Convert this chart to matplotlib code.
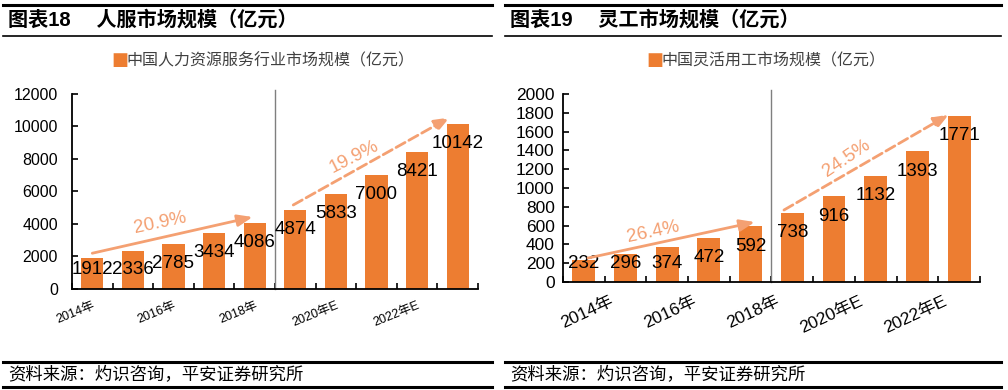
import numpy as np
import matplotlib
matplotlib.use("Agg")
import matplotlib.pyplot as plt
from matplotlib.lines import Line2D

plt.rcParams['font.family'] = ['Liberation Sans', 'Noto Sans CJK SC', 'DejaVu Sans']

# 数据
years = ['2014年', '2015年', '2016年', '2017年', '2018年',
         '2019年E', '2020年E', '2021年E', '2022年E', '2023年E']
hr_market = [1912, 2336, 2785, 3434, 4086, 4874, 5833, 7000, 8421, 10142]
flex_market = [232, 296, 374, 472, 592, 738, 916, 1132, 1393, 1771]

hr_title = '图表18　 人服市场规模（亿元）'
flex_title = '图表19　 灵工市场规模（亿元）'
hr_legend = '中国人力资源服务行业市场规模（亿元）'
flex_legend = '中国灵活用工市场规模（亿元）'
source = '资料来源：灼识咨询，平安证券研究所'

# CAGR 箭头: (起点x, 起点y, 终点x, 终点y, 文字, 文字x, 文字y, 角度, 线型)
hr_cagr = [(0.0, 2200, 3.95, 4430, '20.9%', 1.67, 4080, 12, '-'),
           (4.95, 5170, 8.8, 10550, '19.9%', 6.45, 8150, 27, '--')]
flex_cagr = [(0.1, 255, 4.1, 638, '26.4%', 1.66, 535, 12, '-'),
             (4.8, 766, 8.75, 1780, '24.5%', 6.3, 1320, 34, '--')]

bar_color = '#ED7D31'
arrow_color = '#F4A072'

fig = plt.figure(figsize=(10.08, 3.90), dpi=100)


def panel(rect, values, ymax, ystep, label_off, label_min, tick_fs, tick_pad,
          xt_fs, xt_dx, xt_dy, xt_rot, legend, legend_x, cagr):
    ax = fig.add_axes(rect)
    x = np.arange(len(values))
    ax.bar(x, values, width=0.55, color=bar_color, zorder=2)
    ax.set_xlim(-0.5, len(values) - 0.5)
    ax.set_ylim(0, ymax)
    ax.set_yticks(np.arange(0, ymax + 1, ystep))
    ax.tick_params(axis='y', direction='in', length=4, width=1.2,
                   labelsize=tick_fs, pad=tick_pad)
    ax.set_xticks(np.arange(-0.5, len(values), 1))
    ax.tick_params(axis='x', direction='in', length=4, width=1.2, labelbottom=False)
    for i in range(0, len(values), 2):
        ax.text(i + xt_dx, -xt_dy * ymax, years[i], rotation=xt_rot, ha='right', va='top',
                fontsize=xt_fs, rotation_mode='anchor')
    for s in ['top', 'right']:
        ax.spines[s].set_visible(False)
    for s in ['left', 'bottom']:
        ax.spines[s].set_linewidth(1.3)
    ax.axvline(4.5, ymax=1.02, color='#7F7F7F', lw=1, clip_on=False)
    for i, v in enumerate(values):
        ax.text(i, max(v - label_off, label_min), str(v), ha='center', va='center',
                fontsize=13.5, color='black', zorder=3)
    for x0, y0, x1, y1, t, tx, ty, rot, ls in cagr:
        ax.annotate('', xy=(x1, y1), xytext=(x0, y0),
                    arrowprops=dict(arrowstyle='-|>,head_length=0.9,head_width=0.35',
                                    color=arrow_color, lw=2, linestyle=ls,
                                    shrinkA=0, shrinkB=0), zorder=4)
        ax.text(tx, ty, t, color=arrow_color, fontsize=13.5, rotation=rot,
                ha='center', va='center', zorder=4)
    fig.text(legend_x, 0.845, '■', color=bar_color, fontsize=13, va='center',
             family=['DejaVu Sans'])
    fig.text(legend_x + 0.015, 0.845, legend, color='#404040', fontsize=11.5, va='center')
    return ax


panel([0.0714, 0.259, 0.4028, 0.5], hr_market, 12000, 2000, 1200, 1170, 11.5, 10,
      9, 0.0, 0.055, 22, hr_legend, 0.110, hr_cagr)
panel([0.5585, 0.2769, 0.4137, 0.482], flex_market, 2000, 200, 215, 202, 12.5, 6,
      12.5, 0.6, 0.06, 25, flex_legend, 0.641, flex_cagr)

# 标题与分隔线
for x0, x1, title in [(0.003, 0.488, hr_title), (0.501, 0.993, flex_title)]:
    fig.add_artist(Line2D([x0, x1], [1 - 5 / 390, 1 - 5 / 390], color='black', lw=2.2))
    fig.add_artist(Line2D([x0, x1], [1 - 36 / 390, 1 - 36 / 390], color='black', lw=1.2))
    fig.text(x0 + 0.005, 1 - 20 / 390, title, fontsize=14.5, fontweight='bold', va='center')
    fig.add_artist(Line2D([x0, x1], [1 - 362 / 390, 1 - 362 / 390], color='black', lw=2.2))
    fig.add_artist(Line2D([x0, x1], [1 - 387 / 390, 1 - 387 / 390], color='black', lw=2.2))
    fig.text(x0 + 0.005, 1 - 375 / 390, source, fontsize=12.5, va='center', style='italic')

fig.savefig('out.png', dpi=100)
